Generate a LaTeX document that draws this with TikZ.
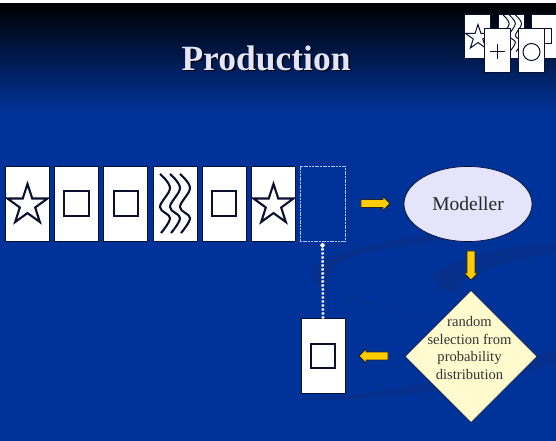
\documentclass[tikz,border=0pt]{standalone}
\usepackage{fontspec}
\setmainfont{Liberation Serif}
\usetikzlibrary{shapes.geometric,shapes.arrows,arrows.meta,calc}
\definecolor{bgblue}{HTML}{003399}
\definecolor{swoosh}{HTML}{07308D}
\definecolor{lineink}{HTML}{0B1030}
\definecolor{titleink}{HTML}{E4E4FA}
\definecolor{ellfill}{HTML}{E4E4FB}
\definecolor{diafill}{HTML}{FFFBCF}
\definecolor{arrowfill}{HTML}{FFCC00}
\tikzset{
  x=1pt,y=-1pt,
  card/.style={draw=lineink,fill=white,line width=0.9pt,minimum width=44pt,minimum height=75pt,inner sep=0pt,outer sep=0pt},
  smallcard/.style={draw=lineink,fill=white,line width=0.6pt,minimum width=26pt,minimum height=44pt,inner sep=0pt,outer sep=0pt},
  emptycard/.style={draw=white!70!bgblue,dash pattern=on 2pt off 0.7pt,line width=0.8pt,minimum width=45pt,minimum height=75pt,inner sep=0pt,outer sep=0pt},
  glyph/.style={draw=lineink,line width=2.1pt,line join=miter},
  thinglyph/.style={draw=lineink,line width=1pt},
  squareglyph/.style={glyph,minimum size=24.5pt,inner sep=0pt,outer sep=0pt},
  starglyph/.style={star,star points=5,star point ratio=2.6,minimum size=#1,inner sep=0pt,outer sep=0pt,fill=white},
  blockarrow/.style={single arrow,draw=black!85,fill=arrowfill,line width=0.8pt,inner xsep=0pt,inner ysep=3.5pt,
    minimum height=29pt,minimum width=14pt,single arrow head extend=3pt,single arrow head indent=0pt,anchor=center,outer sep=0pt},
  modeller/.style={ellipse,draw=lineink,fill=ellfill,line width=0.7pt,minimum width=128pt,minimum height=75pt,inner sep=0pt,outer sep=0pt,font=\fontsize{19.5}{22}\selectfont,text=black!85},
  chance/.style={diamond,draw=lineink,fill=diafill,line width=0.6pt,minimum width=132pt,minimum height=132pt,inner sep=0pt,outer sep=0pt},
  chancetext/.style={align=center,font=\fontsize{14.6}{17.5}\selectfont,text=black!80,inner sep=0pt},
  titletext/.style={font=\bfseries\fontsize{35.5}{38}\selectfont,text=titleink},
  swooshline/.style={draw=swoosh,line cap=round}
}
\newcommand{\wavelines}[3]{%
  \foreach \dx in {0,1,2}{
    \draw[#3] plot[smooth,tension=0.6] coordinates {
      ({#1+\dx*10},{#2}) ({#1+10+\dx*10},{#2+14}) ({#1+\dx*10},{#2+33}) ({#1+10+\dx*10},{#2+44}) ({#1+1+\dx*10},{#2+59})};
  }
}
\begin{document}
\begin{tikzpicture}
\useasboundingbox (0,0) rectangle (556,441);
\shade[top color=black,bottom color=bgblue] (0,3) rectangle (556,112);
\fill[white] (0,0) rectangle (556,3);
\fill[bgblue] (0,112) rectangle (556,441);
% background swooshes
\fill[swoosh] (510,222) .. controls (430,232) and (340,246) .. (314,266) .. controls (306,276) and (312,285) .. (330,292) .. controls (322,280) and (330,264) .. (360,254) .. controls (420,242) and (480,236) .. (520,230) -- cycle;
\fill[swoosh] (556,243) .. controls (500,246) and (440,262) .. (433,277) .. controls (432,285) and (448,292) .. (462,296) .. controls (446,282) and (490,262) .. (556,253) -- cycle;
\fill[swoosh] (556,350) .. controls (470,378) and (380,395) .. (290,400) .. controls (380,402) and (480,390) .. (556,362) -- cycle;
\draw[swooshline,line width=1pt] (330,292) .. controls (360,300) and (430,320) .. (530,345);
% title
\node[titletext,text=black] at (267.5,59.5) {Production};
\node[titletext] (title) at (266,58) {Production};
% sequence cards
\node[card] (c1) at (27,203.5) {};
\node[card] (c2) at (76,203.5) {};
\node[card] (c3) at (125.5,203.5) {};
\node[card] (c4) at (175,203.5) {};
\node[card] (c5) at (224,203.5) {};
\node[card] (c6) at (273.5,203.5) {};
\node[emptycard] (slot) at (322.5,203.5) {};
\node[card] (drawn) at (323,356) {};
% glyphs
\node[glyph,starglyph=42pt] (s1) at (27.5,205) {};
\node[glyph,starglyph=42pt] (s6) at (273.5,205) {};
\node[squareglyph] (q2) at (76.5,203.5) {};
\node[squareglyph] (q3) at (126,203.5) {};
\node[squareglyph] (q5) at (224,203.5) {};
\node[squareglyph] (q7) at (323,356) {};
\wavelines{160}{174}{glyph,line cap=butt}
% modeller and chooser
\node[modeller] (model) at (468,204) {Modeller};
\node[chance] (pick) at (471,356.5) {};
\node[chancetext] (picktext) at (469.5,348) {random\\selection from\\probability\\distribution};
% block arrows
\node[blockarrow] (a1) at (373.5,203.5) {};
\node[blockarrow,rotate=-90] (a2) at (471,263.5) {};
\node[blockarrow,rotate=180] (a3) at (375.5,356) {};
% dotted connector
\draw[white,line width=2.6pt,dash pattern=on 2.2pt off 1.8pt,-{Circle[length=4.5pt]}] (drawn.north) -- ($(slot.south)+(0,2)$);
% top right cards
\node[smallcard] (t1) at (477,36) {};
\node[smallcard] (t2) at (511,36) {};
\node[smallcard] (t3) at (544,36) {};
\node[thinglyph,starglyph=26pt] (ts) at (478,37.5) {};
\begin{scope}[shift={(503,15)},x=0.62pt,y=-0.62pt]
  \wavelines{0}{0}{thinglyph}
\end{scope}
\node[thinglyph,minimum size=15pt,inner sep=0pt,outer sep=0pt] (tq) at (543.5,36) {};
\node[smallcard] (t4) at (497,50) {};
\node[smallcard] (t5) at (531.5,50) {};
\draw[thinglyph] ($(t4.center)+(-7.5,2)$) -- ($(t4.center)+(7.5,2)$);
\draw[thinglyph] ($(t4.center)+(0,-5.5)$) -- ($(t4.center)+(0,9.5)$);
\node[thinglyph,circle,minimum size=17pt,inner sep=0pt,outer sep=0pt] (tc) at (531.5,52) {};
\end{tikzpicture}
\end{document}
